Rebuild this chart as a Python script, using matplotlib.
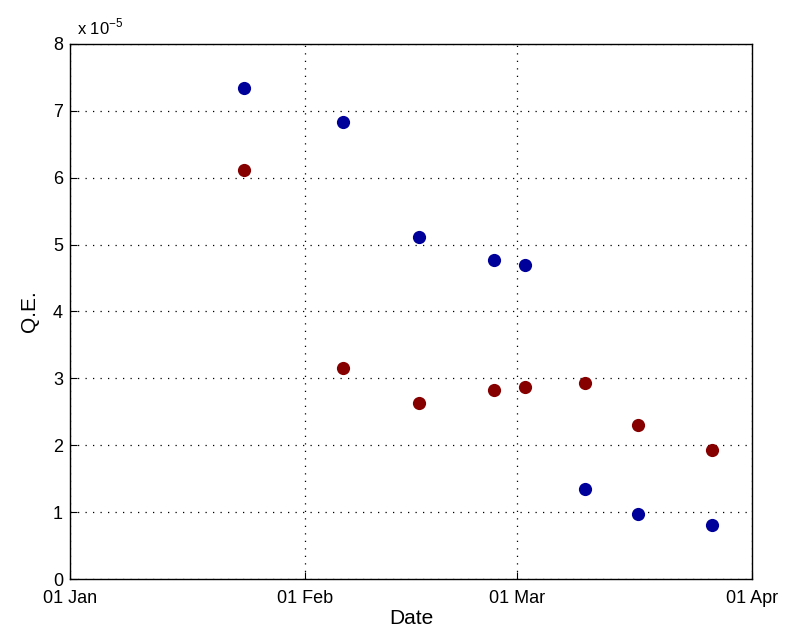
import numpy as np
import matplotlib
matplotlib.use('Agg')
import matplotlib.pyplot as plt
from datetime import datetime

# sample dates (shared by both series)
dates = ['2013-01-24', '2013-02-06', '2013-02-16', '2013-02-26',
         '2013-03-02', '2013-03-10', '2013-03-17', '2013-03-26 16:00']
# Q.E. values in units of 1e-5
qe_blue = [7.34, 6.83, 5.11, 4.77, 4.69, 1.35, 0.97, 0.81]
qe_red = [6.11, 3.15, 2.63, 2.83, 2.87, 2.93, 2.30, 1.93]

x_ticks = ['2013-01-01', '2013-02-01', '2013-03-01', '2013-04-01']
x_tick_labels = ['01 Jan', '01 Feb', '01 Mar', '01 Apr']

plt.rcParams['font.family'] = ['Liberation Sans', 'DejaVu Sans']

def to_dt(s):
    fmt = '%Y-%m-%d %H:%M' if ' ' in s else '%Y-%m-%d'
    return datetime.strptime(s, fmt)

xd = [to_dt(d) for d in dates]
xt = [to_dt(d) for d in x_ticks]

fig = plt.figure(figsize=(7.95, 6.4), dpi=100)
ax = fig.add_axes([0.088, 0.0953, 0.858, 0.836])

ax.plot(xd, qe_blue, 'o', color='#00009a', markersize=9.5, markeredgewidth=0)
ax.plot(xd, qe_red, 'o', color='#860000', markersize=9.5, markeredgewidth=0)

ax.set_xlim(xt[0], xt[-1])
ax.set_ylim(0, 8)
ax.set_xticks(xt)
ax.set_xticklabels(x_tick_labels)
ax.set_yticks(np.arange(0, 9, 1))

ax.grid(True, color='black', linestyle=(0, (1, 5)), linewidth=0.9)
ax.tick_params(direction='in', length=5, labelsize=13)
ax.tick_params(axis='x', pad=8)
ax.tick_params(axis='y', pad=5)
for s in ax.spines.values():
    s.set_linewidth(1.0)

ax.set_xlabel('Date', fontsize=15, labelpad=1)
ax.set_ylabel('Q.E.', fontsize=15, labelpad=10)
ax.text(0.01, 1.012, r'x 10$^{\mathregular{-5}}$', transform=ax.transAxes,
        fontsize=12, ha='left', va='bottom')

fig.savefig('out.png', dpi=100)
